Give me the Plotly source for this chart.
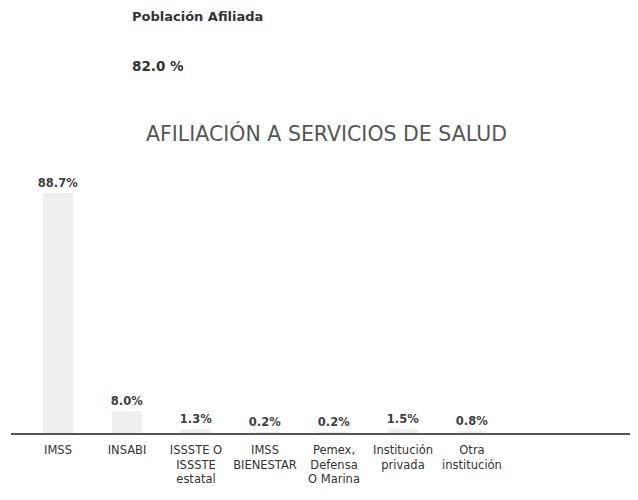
import plotly.graph_objects as go

categories = ["IMSS", "INSABI", "ISSSTE O<br>ISSSTE<br>estatal", "IMSS<br>BIENESTAR",
              "Pemex,<br>Defensa<br>O Marina", "Institución<br>privada", "Otra<br>institución"]
values = [88.7, 8.0, 1.3, 0.2, 0.2, 1.5, 0.8]
labels = ["88.7%", "8.0%", "1.3%", "0.2%", "0.2%", "1.5%", "0.8%"]
header_label = "Población Afiliada"
header_value = "82.0 %"
title_text = "AFILIACIÓN A SERVICIOS DE SALUD"

FONT = "DejaVu Sans"
W, H = 630, 492
pl, pr, pt, pb = 3, 630, 175, 425

fig = go.Figure()
fig.add_trace(go.Bar(
    x=list(range(len(categories))), y=values,
    text=["<b>" + t + "</b>" for t in labels],
    textposition="outside", cliponaxis=False, constraintext="none",
    textfont=dict(family=FONT, size=11.5, color="#404040"),
    marker=dict(color="#efefef", line=dict(width=0)),
    width=0.435,
))

def ann(text, px, py, size, color, xanchor):
    return dict(text=text, showarrow=False, xref="paper", yref="paper",
                x=(px - pl) / (pr - pl), y=(pb - py) / (pb - pt),
                xanchor=xanchor, yanchor="middle",
                font=dict(family=FONT, size=size, color=color))

fig.update_layout(
    width=W, height=H,
    margin=dict(l=pl, r=W - pr, t=pt, b=H - pb),
    paper_bgcolor="white", plot_bgcolor="white",
    showlegend=False,
    xaxis=dict(
        range=[-0.681, 8.406],
        tickmode="array", tickvals=list(range(len(categories))), ticktext=categories,
        showgrid=False, zeroline=False, showline=True, linecolor="#555555", linewidth=1.5,
        ticks="", ticklabelstandoff=5,
        tickfont=dict(family=FONT, size=11.5, color="#333333"),
        tickangle=0,
    ),
    yaxis=dict(range=[0, 92.4], visible=False),
    annotations=[
        ann("<b>" + header_label + "</b>", 122, 8, 13, "#333333", "left"),
        ann("<b>" + header_value + "</b>", 122, 58, 13.5, "#333333", "left"),
        ann(title_text, 318.5, 125, 20.5, "#555555", "center"),
    ],
)

fig.write_html("out.html")
